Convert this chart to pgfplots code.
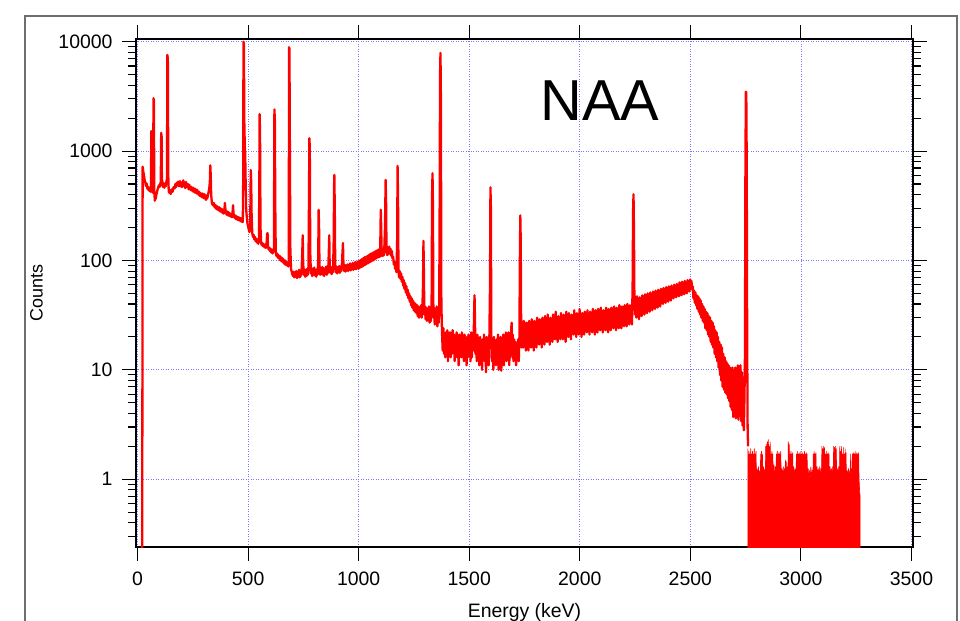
\documentclass[border=0pt]{standalone}
\usepackage{fontspec}
\setmainfont{Liberation Sans}
\usepackage{pgfplots}
\pgfplotsset{compat=1.18}
\definecolor{gridblue}{RGB}{120,120,255}
\definecolor{framegray}{RGB}{110,110,110}
\begin{document}
\begin{tikzpicture}
\begin{axis}[
  scale only axis,
  width=777bp, height=508bp,
  ymode=log,
  xmin=-7, xmax=3507,
  ymin=0.24, ymax=10585,
  xtick={0,500,1000,1500,2000,2500,3000,3500},
  xticklabels={0,500,1000,1500,2000,2500,3000,3500},
  minor x tick num=0,
  log ticks with fixed point,
  /pgf/number format/1000 sep={},
  /pgf/number format/assume math mode=true,
  tick align=outside,
  major tick length=14bp,
  minor tick length=8bp,
  every tick/.style={black, line width=1.1bp},
  axis line style={black, line width=1.2bp},
  grid=major,
  major grid style={gridblue, line width=0.7bp, dash pattern=on 1bp off 1.5bp},
  tick label style={font=\fontsize{19.5}{22}\selectfont},
  yticklabel style={xshift=-6bp},
  xticklabel style={yshift=-7bp},
  xlabel={Energy (keV)}, ylabel={Counts},
  every axis x label/.style={at={(axis description cs:0.5,-0.138)}, anchor=base, font=\fontsize{19.5}{22}\selectfont},
  every axis y label/.style={at={(axis description cs:-0.128,0.5)}, rotate=90, anchor=center, font=\fontsize{18}{21}\selectfont},
]
\addplot[red, line width=2.3bp, line join=round] coordinates {
(21,0.1) (23,720) (26,650) (29,600) (32,545) (35,520) (38,480) (41,505) (44,458) (47,445) (50,468) (53,432) (56,450) (59,425) (61,480) (62,1500) (63,1520) (64,1080) (65,1150) (66,650) (67,450) (69,415) (71,560) (72,3040) (74,2900) (75,900) (76,420) (78,352) (80,372) (82,365) (85,398) (88,425) (91,448) (94,470) (97,488) (100,470) (103,505) (105,520) (106,900) (107,1470) (109,1350) (110,600) (112,495) (115,470) (118,510) (121,462) (124,500) (127,476) (130,518) (133,560) (135,7570) (137,7000) (139,600) (141,428) (144,415) (147,440) (150,405) (153,432) (156,448) (159,425) (162,462) (165,472) (168,455) (171,500) (174,468) (177,512) (180,486) (183,525) (186,478) (189,505) (192,532) (195,475) (198,515) (201,468) (204,505) (207,540) (210,476) (213,502) (216,458) (219,522) (222,475) (225,468) (228,500) (231,448) (234,492) (237,462) (240,440) (243,472) (246,448) (249,428) (252,462) (255,436) (258,418) (261,452) (264,426) (267,410) (270,442) (273,418) (276,398) (279,424) (282,388) (285,412) (288,398) (291,378) (294,410) (297,386) (300,370) (303,402) (306,378) (309,358) (312,392) (315,368) (318,392) (321,418) (324,450) (327,520) (329,742) (331,600) (333,400) (336,338) (339,326) (342,318) (345,336) (348,308) (351,322) (354,298) (357,316) (360,292) (363,310) (366,288) (369,306) (372,282) (375,300) (378,278) (381,296) (384,272) (387,290) (390,268) (393,292) (395,335) (397,300) (400,272) (403,262) (406,280) (409,258) (412,276) (415,255) (418,270) (421,252) (424,266) (427,248) (430,282) (432,320) (434,268) (437,252) (440,244) (443,258) (446,238) (449,252) (452,236) (455,250) (458,233) (461,246) (464,230) (467,243) (470,226) (473,240) (476,224) (478,600) (479,10000) (481,9600) (483,1800) (485,1100) (487,920) (489,500) (491,300) (494,250) (497,218) (500,205) (503,192) (506,182) (509,190) (511,400) (512,670) (514,520) (516,250) (519,176) (522,164) (525,172) (528,156) (531,164) (534,150) (537,158) (540,146) (543,152) (546,142) (549,160) (551,600) (552,2180) (554,1500) (556,200) (559,144) (562,138) (565,144) (568,135) (571,141) (574,132) (577,139) (580,130) (583,137) (586,175) (588,178) (590,134) (593,126) (596,131) (599,122) (602,128) (605,118) (608,125) (611,116) (614,121) (617,130) (618,800) (619,2400) (621,1900) (623,300) (625,118) (628,110) (631,116) (634,106) (637,112) (640,104) (643,110) (646,100) (649,107) (652,98) (655,105) (658,96) (661,102) (664,93) (667,100) (670,91) (673,97) (676,90) (679,95) (682,88) (684,96) (685,8900) (687,8600) (689,1000) (691,130) (694,84) (697,79) (700,75) (703,72) (706,79) (709,70) (712,78) (715,71) (718,80) (721,69) (724,78) (727,72) (730,82) (733,70) (736,79) (739,72) (742,83) (745,120) (747,170) (749,95) (752,74) (755,83) (758,71) (761,80) (764,72) (767,84) (770,74) (773,88) (775,300) (777,1310) (779,1100) (781,120) (784,76) (787,85) (790,72) (793,84) (796,75) (799,86) (802,73) (805,82) (808,71) (811,83) (814,74) (817,100) (819,290) (821,200) (823,80) (826,74) (829,86) (832,75) (835,87) (838,74) (841,85) (844,72) (847,84) (850,76) (853,88) (856,74) (859,85) (862,77) (865,120) (867,170) (869,90) (872,77) (875,87) (878,75) (881,86) (884,78) (887,150) (889,500) (890,605) (892,300) (894,90) (897,78) (900,88) (903,76) (906,87) (909,79) (912,89) (915,77) (918,88) (921,80) (924,92) (927,120) (929,144) (931,95) (934,80) (937,91) (940,79) (943,90) (946,81) (949,92) (952,80) (955,91) (958,82) (961,94) (964,81) (967,92) (970,83) (973,95) (976,82) (979,93) (982,84) (985,97) (988,83) (991,95) (994,85) (997,98) (1000,84) (1003,99) (1006,86) (1009,101) (1012,87) (1015,103) (1018,88) (1021,105) (1024,90) (1027,107) (1030,91) (1033,108) (1036,93) (1039,110) (1042,94) (1045,112) (1048,96) (1051,114) (1054,97) (1057,116) (1060,99) (1063,117) (1066,100) (1069,119) (1072,102) (1075,121) (1078,104) (1081,123) (1084,106) (1087,125) (1090,107) (1093,127) (1096,108) (1098,150) (1100,290) (1102,200) (1104,112) (1107,110) (1110,128) (1113,111) (1116,130) (1119,200) (1122,544) (1124,350) (1126,118) (1129,112) (1132,132) (1135,114) (1138,134) (1141,116) (1144,128) (1147,110) (1150,122) (1153,104) (1156,108) (1159,92) (1162,98) (1165,84) (1168,90) (1171,78) (1174,150) (1176,731) (1178,400) (1180,82) (1183,70) (1186,80) (1189,68) (1192,76) (1195,64) (1198,71) (1201,59) (1204,66) (1207,55) (1210,62) (1213,51) (1216,58) (1219,48) (1222,54) (1225,45) (1228,50) (1231,42) (1234,47) (1237,39) (1240,45) (1243,37) (1246,43) (1249,35) (1252,41) (1255,34) (1258,40) (1261,33) (1264,39) (1267,31) (1270,38) (1273,30) (1276,37) (1279,31) (1282,39) (1285,30) (1288,36) (1291,60) (1293,151) (1295,80) (1297,32) (1300,38) (1303,29) (1306,37) (1309,28) (1312,36) (1315,29) (1318,38) (1321,27) (1324,35) (1327,28) (1330,45) (1332,400) (1334,627) (1336,300) (1338,30) (1341,37) (1344,26) (1347,36) (1350,27) (1353,38) (1356,25) (1359,35) (1362,27) (1364,34) (1366,200) (1368,5000) (1370,7900) (1372,3000) (1374,40)
(1377,22) (1380,15) (1383,24) (1386,14) (1389,21) (1392,13) (1395,22) (1398,16) (1401,23) (1404,12) (1407,20) (1410,15) (1413,22) (1416,13) (1419,19) (1422,14) (1425,23) (1428,16) (1431,21) (1434,12) (1437,20) (1440,15) (1443,22) (1446,13) (1449,19) (1452,11) (1455,21) (1458,14) (1461,20) (1464,13) (1467,22) (1470,15) (1473,19) (1476,12) (1479,21) (1482,14) (1485,18) (1488,11) (1491,20) (1494,13) (1497,21) (1500,14) (1503,19) (1506,12) (1509,22) (1512,13) (1515,20) (1518,15) (1521,25) (1523,40) (1524,48) (1526,30) (1528,14) (1531,19) (1534,12) (1537,21) (1540,13) (1543,18) (1546,11) (1549,20) (1552,14) (1555,18) (1558,10) (1561,19) (1564,13) (1567,21) (1570,12) (1573,18) (1576,9.5) (1579,20) (1582,13) (1585,17) (1588,11) (1591,19) (1594,60) (1596,466) (1598,300) (1600,20) (1603,12) (1606,18) (1609,10) (1612,20) (1615,13) (1618,17) (1621,11) (1624,19) (1627,12) (1630,21) (1633,10) (1636,18) (1639,14) (1642,20) (1645,9.8) (1648,18) (1651,13) (1654,21) (1657,11) (1660,19) (1663,14) (1666,22) (1669,12) (1672,19) (1675,14) (1678,22) (1681,11) (1684,20) (1687,13) (1690,24) (1692,27) (1694,15) (1697,21) (1700,12) (1703,19) (1706,14) (1709,18) (1712,11) (1715,17) (1718,13) (1721,19) (1724,12) (1727,20) (1729,100) (1731,258) (1733,150) (1735,22) (1738,16) (1741,25) (1744,16) (1747,28) (1750,17) (1753,25) (1756,15) (1759,27) (1762,18) (1765,26) (1768,15) (1771,28) (1774,17) (1777,25) (1780,16) (1783,29) (1786,18) (1789,26) (1792,15) (1795,28) (1798,19) (1801,27) (1804,16) (1807,30) (1810,18) (1813,26) (1816,17) (1819,29) (1822,19) (1825,27) (1828,16) (1831,30) (1834,20) (1837,28) (1840,17) (1843,31) (1846,19) (1849,27) (1852,18) (1855,32) (1858,20) (1861,28) (1864,17) (1867,30) (1870,21) (1873,29) (1876,18) (1879,32) (1882,20) (1885,28) (1888,19) (1891,34) (1894,21) (1897,29) (1900,18) (1903,31) (1906,21) (1909,28) (1912,19) (1915,33) (1918,22) (1921,30) (1924,19) (1927,32) (1930,21) (1933,29) (1936,18) (1939,34) (1942,22) (1945,30) (1948,20) (1951,33) (1954,23) (1957,29) (1960,19) (1963,32) (1966,22) (1969,30) (1972,21) (1975,35) (1978,23) (1981,31) (1984,20) (1987,33) (1990,22) (1993,31) (1996,21) (1999,36) (2002,23) (2005,30) (2008,20) (2011,33) (2014,23) (2017,31) (2020,21) (2023,34) (2026,24) (2029,32) (2032,22) (2035,35) (2038,24) (2041,31) (2044,21) (2047,34) (2050,23) (2053,32) (2056,22) (2059,36) (2062,24) (2065,31) (2068,21) (2071,35) (2074,25) (2077,32) (2080,22) (2083,36) (2086,24) (2089,33) (2092,23) (2095,37) (2098,25) (2101,32) (2104,22) (2107,35) (2110,24) (2113,33) (2116,23) (2119,37) (2122,25) (2125,32) (2128,22) (2131,36) (2134,26) (2137,34) (2140,23) (2143,37) (2146,25) (2149,33) (2152,24) (2155,38) (2158,26) (2161,34) (2164,23) (2167,37) (2170,27) (2173,34) (2176,24) (2179,39) (2182,26) (2185,35) (2188,24) (2191,38) (2194,27) (2197,35) (2200,25) (2203,39) (2206,27) (2209,36) (2212,25) (2215,40) (2218,28) (2221,36) (2224,26) (2227,39) (2230,28) (2233,37) (2236,26) (2239,60) (2241,280) (2243,403) (2245,200) (2247,45) (2250,32) (2253,45) (2256,30) (2259,47) (2262,33) (2265,43) (2268,29) (2271,46) (2274,34) (2277,44) (2280,31) (2283,48) (2286,35) (2289,45) (2292,32) (2295,49) (2298,36) (2301,45) (2304,33) (2307,50) (2310,37) (2313,46) (2316,34) (2319,51) (2322,38) (2325,47) (2328,35) (2331,52) (2334,39) (2337,48) (2340,36) (2343,53) (2346,40) (2349,49) (2352,37) (2355,54) (2358,41) (2361,50) (2364,38) (2367,55) (2370,42) (2373,51) (2376,40) (2379,56) (2382,43) (2385,53) (2388,41) (2391,57) (2394,44) (2397,54) (2400,42) (2403,58) (2406,45) (2409,55) (2412,43) (2415,59) (2418,46) (2421,56) (2424,45) (2427,60) (2430,47) (2433,57) (2436,46) (2439,61) (2442,48) (2445,58) (2448,47) (2451,63) (2454,49) (2457,59) (2460,48) (2463,64) (2466,50) (2469,60) (2472,49) (2475,65) (2478,51) (2481,61) (2484,50) (2487,66) (2490,53) (2493,63) (2496,52) (2499,67) (2502,55) (2505,65) (2508,54) (2511,58) (2514,45) (2517,53) (2520,41) (2523,51) (2526,39) (2529,48) (2532,36) (2535,47) (2538,34) (2541,45) (2544,32) (2547,43) (2550,30) (2553,40) (2556,28) (2559,38) (2562,27) (2565,36) (2568,24) (2571,34) (2574,23) (2577,33) (2580,21) (2583,31) (2586,20) (2589,30) (2592,18) (2595,28) (2598,17) (2601,27) (2604,16) (2607,25) (2610,14) (2613,23) (2616,13) (2619,22) (2622,12) (2625,20) (2628,10.5) (2631,18) (2634,9) (2637,17) (2640,8) (2643,16) (2646,7) (2649,14) (2652,6.6) (2655,13) (2658,6.2) (2661,12) (2664,6) (2667,11.5) (2670,5.5) (2673,11) (2676,5.2) (2679,10.5) (2682,4.6) (2685,10) (2688,4.3) (2691,10.5) (2694,3.7) (2697,9.5) (2700,4) (2703,10.5) (2706,3.6) (2709,10) (2712,3.8) (2715,11) (2718,3.5) (2721,10.5) (2724,4.1) (2727,11) (2730,3.4) (2733,9.5) (2736,3.1) (2739,8.5) (2742,2.8) (2745,6) (2747,14) (2749,600) (2751,3490) (2753,3400) (2755,800) (2757,20) (2759,3) (2761,2)
};
\addplot[red, fill=red, line width=0.6bp, line join=round] coordinates {
(2760,0.1) (2760,1.9) (2763,1) (2765,1.8) (2767,1) (2769,1.7) (2771,1) (2773,1.9) (2775,1) (2777,1.7) (2779,1) (2781,1.8) (2783,1) (2785,1.7) (2787,1) (2789,1.9) (2791,1) (2793,1.7) (2795,1) (2797,1.8) (2799,1) (2802,1.25) (2805,1) (2808,1.3) (2811,1) (2814,1.2) (2816,1) (2818,1.7) (2820,1) (2822,1.8) (2824,1) (2826,1.7) (2828,1) (2831,1.3) (2834,1) (2837,1.25) (2839,1) (2841,2.0) (2843,1) (2845,2.1) (2847,1) (2849,2.2) (2851,1) (2853,2.3) (2855,1) (2857,2.0) (2859,1) (2861,2.2) (2863,1) (2865,1.7) (2867,1) (2869,1.8) (2871,1) (2873,1.7) (2875,1) (2878,1.35) (2881,1) (2884,1.3) (2887,1) (2889,1.7) (2891,1) (2893,1.8) (2895,1) (2897,1.7) (2899,1) (2901,1.75) (2903,1) (2905,1.7) (2907,1) (2909,1.8) (2911,1) (2914,1.25) (2917,1) (2920,1.3) (2923,1) (2926,1.25) (2928,1) (2930,1.5) (2932,1) (2934,1.45) (2936,1) (2939,1.3) (2941,1) (2943,2.2) (2945,1) (2947,2.1) (2949,1) (2951,1.7) (2953,1) (2955,1.8) (2957,1) (2959,1.7) (2961,1) (2963,1.75) (2965,1) (2968,1.3) (2971,1) (2974,1.25) (2977,1) (2980,1.7) (2982,1) (2984,1.8) (2986,1) (2988,1.7) (2990,1) (2992,1.75) (2994,1) (2996,1.7) (2998,1) (3000,1.8) (3002,1) (3004,1.7) (3006,1) (3008,1.75) (3010,1) (3012,1.7) (3014,1) (3016,1.8) (3018,1) (3020,1.7) (3022,1) (3024,1.75) (3026,1) (3028,1.7) (3030,1) (3033,1.25) (3036,1) (3039,1.2) (3042,1) (3045,1.3) (3048,1) (3051,1.2) (3054,1) (3056,1.7) (3058,1) (3060,1.8) (3062,1) (3064,1.7) (3066,1) (3068,1.75) (3070,1) (3073,1.3) (3076,1) (3079,1.25) (3082,1) (3085,1.3) (3088,1) (3091,1.25) (3093,1) (3095,2.0) (3097,1) (3099,1.9) (3101,1) (3103,2.0) (3105,1) (3107,1.95) (3109,1) (3111,1.7) (3113,1) (3115,1.8) (3117,1) (3119,1.7) (3121,1) (3123,1.75) (3125,1) (3127,1.7) (3129,1) (3132,1.3) (3135,1) (3138,1.25) (3141,1) (3144,1.3) (3146,1) (3148,2.0) (3150,1) (3152,1.95) (3154,1) (3156,2.0) (3158,1) (3160,1.9) (3162,1) (3165,1.25) (3168,1) (3171,1.3) (3174,1) (3176,2.0) (3178,1) (3180,1.8) (3182,1) (3184,2.0) (3186,1) (3188,1.7) (3190,1) (3192,1.95) (3194,1) (3196,1.7) (3198,1) (3200,1.9) (3202,1) (3204,1.75) (3206,1) (3209,1.2) (3212,1) (3215,1.25) (3218,1) (3221,1.2) (3223,1) (3225,1.7) (3227,1) (3229,1.25) (3231,1) (3233,1.7) (3235,1) (3237,1.75) (3239,1) (3241,1.7) (3243,1) (3245,1.8) (3247,1) (3249,1.7) (3251,1) (3253,1.75) (3255,1) (3257,1.7) (3259,1) (3261,1.75) (3263,1) (3266,0.75) (3268,0.7) (3268,0.1)
} -- cycle;
\node[font=\fontsize{58}{60}\selectfont] at (axis description cs:0.597,0.879) {NAA};
\end{axis}
\draw[framegray, line width=1.3bp] ([xshift=-111bp,yshift=-100bp]current axis.south west) |- ([xshift=821bp,yshift=531bp]current axis.south west) -- ++(0,-700bp);
\pgfresetboundingbox
\path ([xshift=-136bp,yshift=-74bp]current axis.south west) rectangle ++(960bp,621bp);
\end{tikzpicture}
\end{document}
